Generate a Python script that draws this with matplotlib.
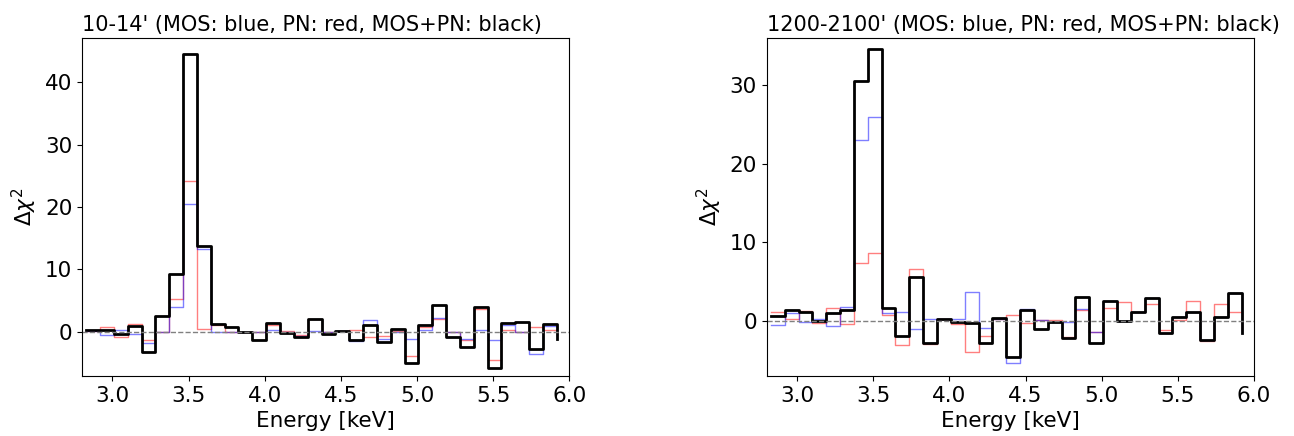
import matplotlib
matplotlib.use("Agg")
import matplotlib.pyplot as plt

# energy grid of the residual spectra (keV), shared by both panels
energy = [2.827, 2.918, 3.009, 3.100, 3.191, 3.282, 3.373, 3.464, 3.554, 3.645,
          3.736, 3.827, 3.918, 4.009, 4.100, 4.191, 4.282, 4.373, 4.463, 4.554,
          4.645, 4.736, 4.827, 4.918, 5.009, 5.100, 5.191, 5.282, 5.373, 5.463,
          5.554, 5.645, 5.736, 5.827, 5.918]

# 10-14' annulus
mos_l = [0.05, -0.5, 0.3, -0.4, -1.75, 0.0, 4.0, 20.5, 13.3, -0.1,
         -0.1, 0.0, 0.0, 0.2, -0.1, -0.7, 0.1, -0.1, 0.1, -1.5,
         1.9, -1.1, -0.1, -1.2, 0.2, 2.2, 0.0, -1.2, 0.3, -1.3,
         1.1, 0.0, -3.5, 0.9, -0.5]
pn_l = [0.1, 0.8, -0.8, 1.2, -1.4, 0.0, 5.2, 24.1, 0.5, 1.1,
        0.0, 0.0, 0.0, 1.0, 0.1, -0.5, 2.1, -0.1, 0.15, 0.2,
        -0.9, -0.7, 0.05, -3.9, 0.7, 2.0, 0.0, -1.4, 3.6, -4.5,
        0.2, 0.0, 0.7, 0.3, -0.5]
all_l = [0.2, 0.2, -0.4, 0.9, -3.2, 2.6, 9.2, 44.6, 13.8, 1.2,
         0.8, 0.0, -1.3, 1.4, -0.2, -0.9, 2.1, -0.4, 0.1, -1.4,
         1.0, -1.6, 0.4, -5.0, 1.0, 4.3, -0.8, -2.5, 4.0, -5.8,
         1.4, 1.6, -2.8, 1.2, -1.2]

# 1200-2100' annulus
mos_r = [-0.55, 1.0, -0.1, 0.3, -0.6, 1.8, 23.0, 26.0, 1.0, 1.1,
         -1.0, 0.2, 0.2, 0.2, 3.7, -0.9, 0.3, -5.4, 1.5, 0.1,
         -0.1, -0.1, 1.5, -1.4, 2.5, 0.0, 1.1, 2.9, -1.5, 0.5,
         1.2, -2.4, 0.5, 3.5, -1.5]
pn_r = [1.2, 0.2, 1.3, -0.3, 1.6, -0.4, 7.4, 8.6, 0.8, -3.0,
        6.6, -2.9, 0.2, -0.35, -3.9, -1.9, 0.2, 0.8, -0.3, 0.1,
        0.1, -2.0, 1.4, -1.4, 1.6, 2.4, 1.1, 2.2, -1.2, 0.1,
        2.5, -2.6, 2.1, 1.2, -1.2]
all_r = [0.6, 1.4, 1.2, 0.0, 1.0, 1.4, 30.5, 34.6, 1.7, -1.9,
         5.6, -2.8, 0.2, -0.1, -0.2, -2.8, 0.4, -4.6, 1.4, -1.0,
         -0.1, -2.2, 3.0, -2.8, 2.5, 0.0, 1.1, 2.9, -1.5, 0.5,
         1.2, -2.4, 0.5, 3.5, -1.5]

panels = [
    ("10-14' (MOS: blue, PN: red, MOS+PN: black)", mos_l, pn_l, all_l, (-7.1, 47.1)),
    ("1200-2100' (MOS: blue, PN: red, MOS+PN: black)", mos_r, pn_r, all_r, (-7.0, 36.0)),
]

plt.rcParams["font.size"] = 15.5

fig, axes = plt.subplots(1, 2, figsize=(12.94, 4.36), dpi=100)
fig.subplots_adjust(left=0.0634, right=0.9691, bottom=0.1376, top=0.9128, wspace=0.405)

for ax, (title, mos, pn, tot, ylim) in zip(axes, panels):
    ax.step(energy, pn, where="post", color="red", alpha=0.5, lw=1)
    ax.step(energy, mos, where="post", color="blue", alpha=0.5, lw=1)
    ax.step(energy, tot, where="post", color="black", lw=2)
    ax.axhline(0, color="gray", ls="--", lw=1)
    ax.set_xlim(2.8, 6.0)
    ax.set_ylim(*ylim)
    ax.set_xticks([3.0, 3.5, 4.0, 4.5, 5.0, 5.5, 6.0])
    ax.set_xlabel("Energy [keV]", fontsize=15.5, labelpad=4)
    ax.set_ylabel(r"$\Delta\chi^2$", fontsize=15.5)
    ax.set_title(title, loc="left", fontsize=15, pad=5)

fig.savefig("out.png", dpi=100)
